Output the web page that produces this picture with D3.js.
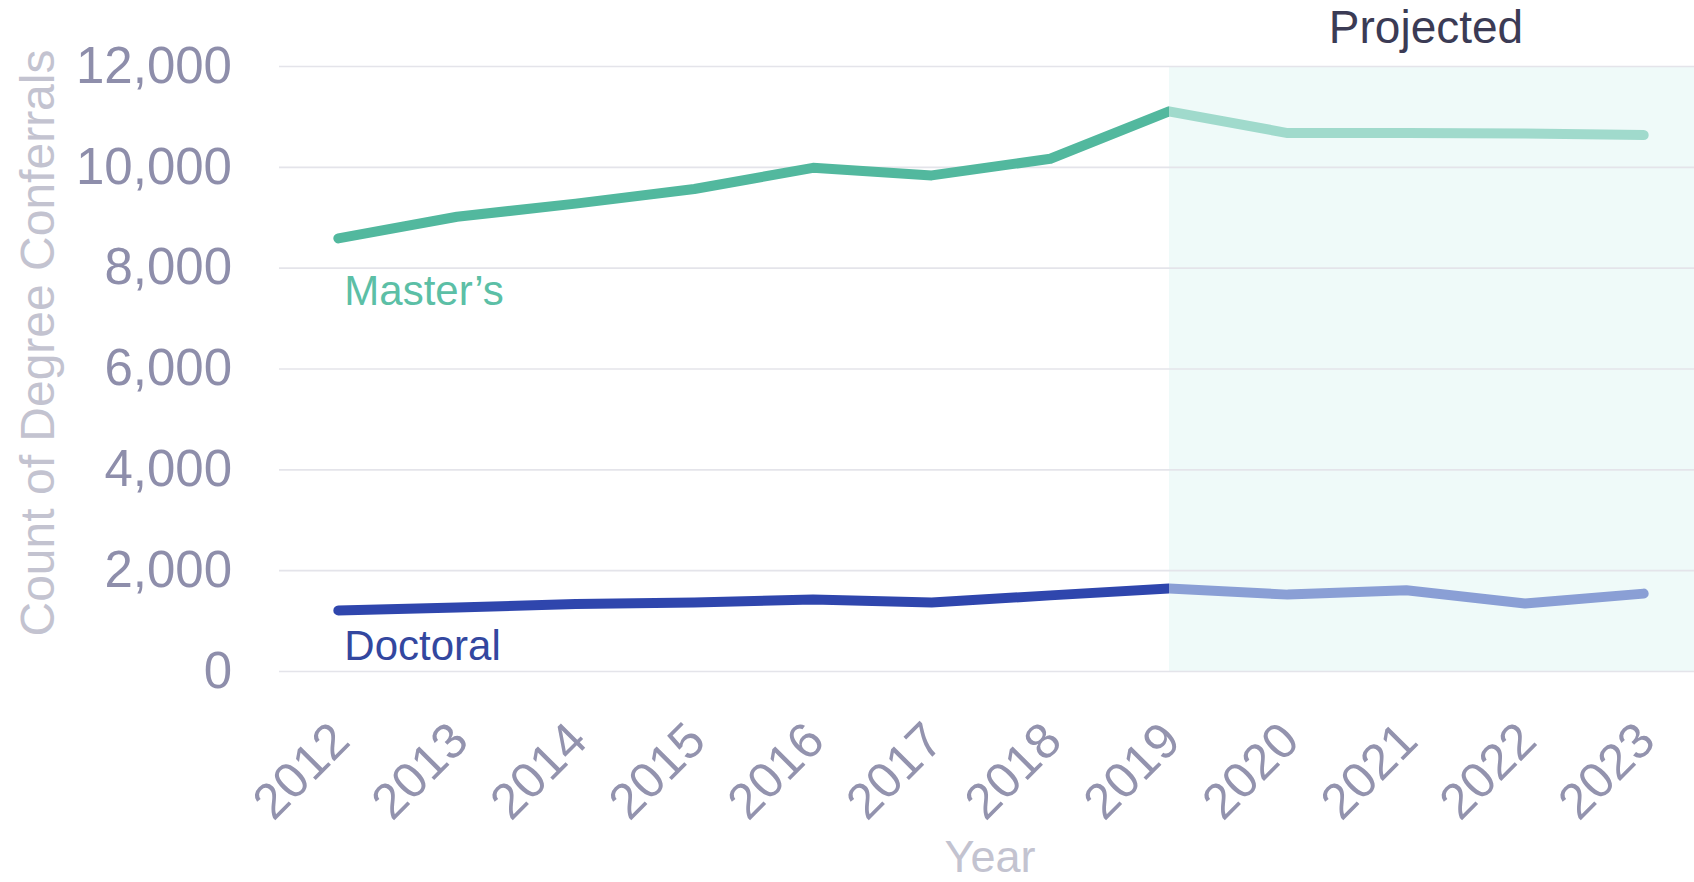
<!DOCTYPE html>
<html>
<head>
<meta charset="utf-8">
<script src="https://cdn.jsdelivr.net/npm/d3@7"></script>
<style>
  html, body { margin: 0; padding: 0; background: #ffffff; }
  svg { display: block; font-family: "Liberation Sans", Arial, sans-serif; }
</style>
</head>
<body>
<svg id="chart" width="1694" height="882"></svg>
<script>
// Degree conferrals by year; 2020 onward are projections
const years = ["2012","2013","2014","2015","2016","2017","2018","2019","2020","2021","2022","2023"];
const mastersValues  = [8580, 9010, 9270, 9560, 9980, 9830, 10160, 11100, 10670, 10670, 10660, 10630];
const doctoralValues = [1200, 1260, 1330, 1360, 1420, 1360, 1500, 1635, 1515, 1600, 1340, 1535];
const yTicks = [0, 2000, 4000, 6000, 8000, 10000, 12000];
const projectionStart = "2019";

const W = 1694, H = 882;
const svg = d3.select("#chart");

const x = d3.scalePoint().domain(years).range([279, 1703]).padding(0.5);
const y = d3.scaleLinear().domain([0, 12000]).range([671, 66]);

const series = [
  { name: "Master\u2019s", values: mastersValues, actual: "#52b89e", projected: "#a0dacc", label: "#5cbfa6", labelY: 305 },
  { name: "Doctoral", values: doctoralValues, actual: "#2f46ad", projected: "#8a9fd5", label: "#33479f", labelY: 660 }
];

const xSplit = x(projectionStart);

// shaded projection region
svg.append("rect")
  .attr("x", xSplit).attr("y", y(12000))
  .attr("width", W - xSplit).attr("height", y(0) - y(12000))
  .attr("fill", "#effaf9");

// horizontal gridlines + y tick labels
const yAxis = d3.axisLeft(y)
  .tickValues(yTicks)
  .tickFormat(d3.format(","))
  .tickSize(-(1703 - 279))
  .tickPadding(47);
const gy = svg.append("g").attr("transform", "translate(279,0)").call(yAxis);
gy.select(".domain").remove();
gy.selectAll(".tick line").attr("stroke", "#e4e4ea").attr("stroke-width", 1.6);
gy.selectAll(".tick text")
  .attr("fill", "#8e8eab")
  .attr("font-size", 51)
  .attr("font-family", "'Liberation Sans', Arial, sans-serif");

// x tick labels, rotated
const xAxis = d3.axisBottom(x).tickSize(0).tickPadding(0);
const gx = svg.append("g").attr("transform", `translate(0,${y(0)})`).call(xAxis);
gx.select(".domain").remove();
gx.selectAll(".tick text")
  .attr("fill", "#9393ae")
  .attr("font-size", 50)
  .attr("font-family", "'Liberation Sans', Arial, sans-serif")
  .attr("text-anchor", "end")
  .attr("y", 0)
  .attr("dy", "0.35em")
  .attr("transform", "translate(1,60) rotate(-45)");

// clip regions for observed vs projected portions
const defs = svg.append("defs");
defs.append("clipPath").attr("id", "clipActual")
  .append("rect").attr("x", 0).attr("y", 0).attr("width", xSplit).attr("height", H);
defs.append("clipPath").attr("id", "clipProjected")
  .append("rect").attr("x", xSplit).attr("y", 0).attr("width", W - xSplit).attr("height", H);

const line = d3.line()
  .x((d, i) => x(years[i]))
  .y(d => y(d));

series.forEach(s => {
  svg.append("path")
    .datum(s.values)
    .attr("d", line)
    .attr("fill", "none")
    .attr("stroke", s.projected)
    .attr("stroke-width", 10)
    .attr("stroke-linecap", "round")
    .attr("stroke-linejoin", "round")
    .attr("clip-path", "url(#clipProjected)");
  svg.append("path")
    .datum(s.values)
    .attr("d", line)
    .attr("fill", "none")
    .attr("stroke", s.actual)
    .attr("stroke-width", 10)
    .attr("stroke-linecap", "round")
    .attr("stroke-linejoin", "round")
    .attr("clip-path", "url(#clipActual)");
  svg.append("text")
    .attr("x", x(years[0]) + 6)
    .attr("y", s.labelY)
    .attr("fill", s.label)
    .attr("font-size", 42)
    .text(s.name);
});

// "Projected" heading over the shaded region
svg.append("text")
  .attr("x", 1426).attr("y", 43)
  .attr("text-anchor", "middle")
  .attr("fill", "#3b3b55")
  .attr("font-size", 46)
  .text("Projected");

// axis titles
svg.append("text")
  .attr("transform", "translate(54,343) rotate(-90)")
  .attr("text-anchor", "middle")
  .attr("fill", "#c3c3d0")
  .attr("font-size", 48)
  .text("Count of Degree Conferrals");

svg.append("text")
  .attr("x", 990).attr("y", 872)
  .attr("text-anchor", "middle")
  .attr("fill", "#c3c3d0")
  .attr("font-size", 45)
  .text("Year");
</script>
</body>
</html>
